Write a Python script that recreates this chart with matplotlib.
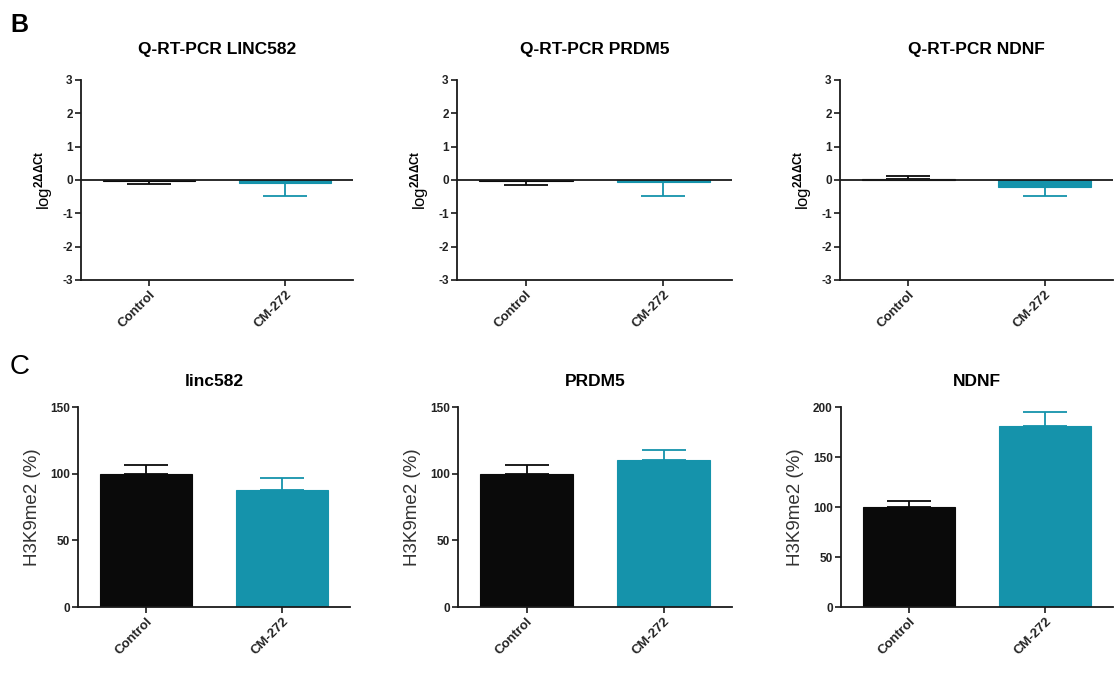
import numpy as np
import matplotlib
matplotlib.use('Agg')
import matplotlib.pyplot as plt

plt.rcParams['font.family'] = ['Liberation Sans', 'DejaVu Sans']
plt.rcParams['mathtext.fontset'] = 'custom'
plt.rcParams['mathtext.rm'] = 'Liberation Sans:bold'
plt.rcParams['mathtext.it'] = 'Liberation Sans:bold'
plt.rcParams['mathtext.bf'] = 'Liberation Sans:bold'
plt.rcParams['axes.unicode_minus'] = False

groups = ['Control', 'CM-272']
black = '#0a0a0a'
teal = '#1593ab'

# Q-RT-PCR, log 2^-ddCt (mean, sem)
qpcr_titles = ['Q-RT-PCR LINC582', 'Q-RT-PCR PRDM5', 'Q-RT-PCR NDNF']
qpcr_mean = [[-0.02, -0.10], [-0.03, -0.05], [0.04, -0.20]]
qpcr_sem = [[0.11, 0.38], [0.12, 0.43], [0.08, 0.28]]

# ChIP H3K9me2 (%) (mean, sem)
chip_titles = ['linc582', 'PRDM5', 'NDNF']
chip_mean = [[100, 87.5], [100, 110], [100, 181]]
chip_sem = [[6.5, 9], [6.5, 8], [6, 14]]
chip_ymax = [150, 150, 200]
chip_yticks = [[0, 50, 100, 150], [0, 50, 100, 150], [0, 50, 100, 150, 200]]

W, H = 1117, 679
fig = plt.figure(figsize=(W / 100, H / 100), dpi=100)


def px_axes(x0, x1, ytop, ybot):
    return fig.add_axes([x0 / W, 1 - ybot / H, (x1 - x0) / W, (ybot - ytop) / H])


def draw_bars(ax, mean, sem):
    x = np.arange(len(groups))
    mean = np.array(mean, dtype=float)
    sem = np.array(sem, dtype=float)
    # error bars go away from zero only
    lower = np.where(mean < 0, sem, 0)
    upper = np.where(mean >= 0, sem, 0)
    cols = [black, teal]
    for i in range(len(groups)):
        ax.bar(x[i], mean[i], width=0.68, color=cols[i], edgecolor=cols[i],
               linewidth=0.8, zorder=2)
        ax.errorbar(x[i], mean[i], yerr=[[lower[i]], [upper[i]]], fmt='none',
                    ecolor=cols[i], elinewidth=1.3, capsize=16, capthick=1.3,
                    zorder=3)
    ax.set_xticks(x)
    ax.set_xticklabels(groups, rotation=45, ha='right', rotation_mode='anchor',
                       fontsize=9.5, fontweight='bold', color='#222222')
    ax.set_xlim(-0.5, 1.5)


def style(ax):
    for s in ['top', 'right']:
        ax.spines[s].set_visible(False)
    for s in ['left', 'bottom']:
        ax.spines[s].set_linewidth(1.3)
        ax.spines[s].set_color('#1a1a1a')
    ax.tick_params(axis='both', direction='out', length=4, width=1.2,
                   color='#1a1a1a', pad=2)
    for lab in ax.get_yticklabels():
        lab.set_fontsize(8.5)
        lab.set_fontweight('bold')
        lab.set_color('#222222')


top_x = [(81, 353), (457, 732), (840, 1113)]
bot_x = [(78, 350), (458, 732), (841, 1113)]

for i in range(3):
    ax = px_axes(top_x[i][0], top_x[i][1], 80, 280)
    draw_bars(ax, qpcr_mean[i], qpcr_sem[i])
    ax.axhline(0, color='#1a1a1a', linewidth=1.3, zorder=4)
    ax.set_ylim(-3, 3)
    ax.set_yticks(np.arange(-3, 4, 1))
    ax.set_title(qpcr_titles[i], fontsize=12.5, fontweight='bold', pad=19)
    ax.set_ylabel(r'log$^{2\Delta\Delta Ct}$', fontsize=12, labelpad=5)
    style(ax)

for i in range(3):
    ax = px_axes(bot_x[i][0], bot_x[i][1], 407, 607)
    draw_bars(ax, chip_mean[i], chip_sem[i])
    ax.set_ylim(0, chip_ymax[i])
    ax.set_yticks(chip_yticks[i])
    ax.set_title(chip_titles[i], fontsize=12.5, fontweight='bold', pad=15)
    ax.set_ylabel('H3K9me2 (%)', fontsize=13.5, color='#333333', labelpad=6)
    style(ax)

fig.text(10 / W, 1 - 32 / H, 'B', fontsize=18, fontweight='bold')
fig.text(10 / W, 1 - 374 / H, 'C', fontsize=20)

fig.savefig('out.png', dpi=100)
